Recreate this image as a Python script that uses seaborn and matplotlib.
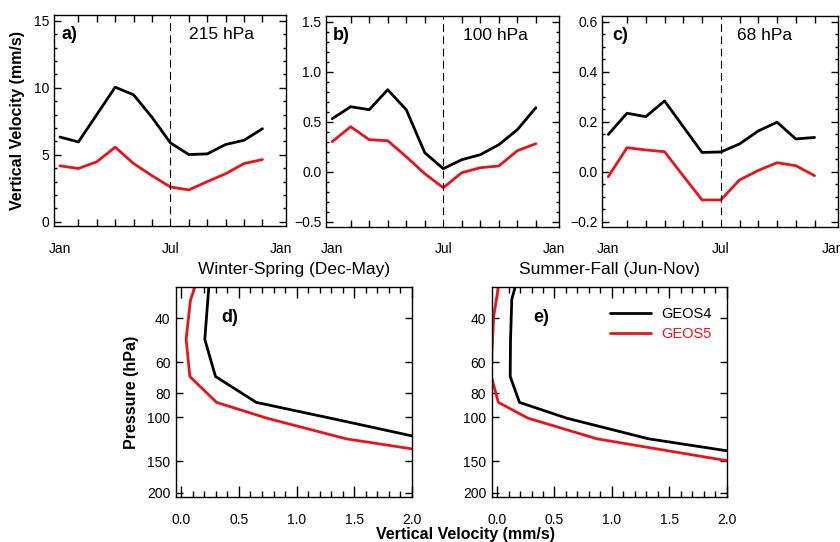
import numpy as np
import pandas as pd
import matplotlib
matplotlib.use("Agg")
import matplotlib.pyplot as plt
from matplotlib.ticker import MultipleLocator, FixedLocator, NullLocator, FixedFormatter
from matplotlib.lines import Line2D
import seaborn as sns

# ---------------- data ----------------
months = list(range(12))  # Jan..Dec
month_tick_pos = [0, 6, 12]
month_tick_lab = ["Jan", "Jul", "Jan"]

geos4_215 = [6.33, 5.96, 8.0, 10.05, 9.48, 7.8, 5.89, 5.02, 5.07, 5.77, 6.09, 6.95]
geos5_215 = [4.18, 3.98, 4.48, 5.57, 4.35, 3.44, 2.60, 2.38, 3.00, 3.59, 4.35, 4.65]

geos4_100 = [0.53, 0.65, 0.62, 0.82, 0.62, 0.19, 0.03, 0.12, 0.17, 0.27, 0.42, 0.64]
geos5_100 = [0.30, 0.45, 0.32, 0.31, 0.15, -0.02, -0.16, -0.01, 0.04, 0.057, 0.21, 0.28]

geos4_68 = [0.149, 0.234, 0.22, 0.283, 0.18, 0.077, 0.079, 0.111, 0.163, 0.198, 0.131, 0.137]
geos5_68 = [-0.02, 0.096, 0.087, 0.08, -0.017, -0.113, -0.113, -0.033, 0.005, 0.036, 0.024, -0.016]

# profiles: (velocity mm/s, pressure hPa)
ws_geos4_v = [0.238, 0.203, 0.296, 0.65, 1.33, 2.0]
ws_geos4_p = [30, 48.6, 68.5, 87, 101.5, 118.5]
ws_geos5_v = [0.116, 0.078, 0.041, 0.073, 0.305, 0.74, 1.43, 2.0]
ws_geos5_p = [30, 34, 48.6, 68.5, 87, 100.6, 121.8, 133.6]

sf_geos4_v = [0.157, 0.128, 0.117, 0.114, 0.195, 0.604, 1.32, 2.0]
sf_geos4_p = [30, 33.6, 48.6, 68.5, 87, 100.6, 121.8, 136]
sf_geos5_v = [0.011, -0.03, -0.045, -0.05, 0.011, 0.268, 0.87, 2.0]
sf_geos5_p = [30, 39.4, 55, 68.5, 87, 100.6, 121.8, 149]

p_ticks = [40, 60, 80, 100, 150, 200]

RED = "#e8141c"
BLACK = "black"

# ---------------- style ----------------
sns.set_theme(style="ticks")
plt.rcParams["font.family"] = ["Liberation Sans", "DejaVu Sans"]
plt.rcParams["axes.linewidth"] = 1.0
plt.rcParams["xtick.direction"] = "in"
plt.rcParams["ytick.direction"] = "in"
plt.rcParams["text.color"] = "black"
plt.rcParams["axes.labelcolor"] = "black"
plt.rcParams["xtick.color"] = "black"
plt.rcParams["ytick.color"] = "black"
plt.rcParams["xtick.labelcolor"] = "black"
plt.rcParams["ytick.labelcolor"] = "black"

fig = plt.figure(figsize=(8.4, 5.42), dpi=100)

W, H = 840.0, 542.0
def box(l, r, t, b):
    return [l / W, (H - b) / H, (r - l) / W, (b - t) / H]

ax_a = fig.add_axes(box(53.5, 285.5, 15.5, 226.5))
ax_b = fig.add_axes(box(325.7, 559.0, 15.7, 226.7))
ax_c = fig.add_axes(box(601.7, 838.0, 15.7, 226.7))
ax_d = fig.add_axes(box(176.0, 411.7, 286.7, 497.3))
ax_e = fig.add_axes(box(491.7, 726.7, 286.7, 497.3))

def top_panel(ax, g4, g5, ylim, ymaj, ymin, yfmt, lab, lab_x, lev, lev_x):
    df = pd.DataFrame({"month": months * 2,
                       "w": g4 + g5,
                       "model": ["GEOS4"] * 12 + ["GEOS5"] * 12})
    sns.lineplot(data=df, x="month", y="w", hue="model",
                 palette={"GEOS4": BLACK, "GEOS5": RED},
                 lw=2.0, ax=ax, legend=False, estimator=None)
    ax.axvline(6, color="black", lw=0.8, ls=(0, (7, 4)))
    ax.set_xlim(-0.35, 12.25)
    ax.set_ylim(*ylim)
    ax.xaxis.set_major_locator(FixedLocator(month_tick_pos))
    ax.xaxis.set_major_formatter(FixedFormatter(month_tick_lab))
    ax.xaxis.set_minor_locator(FixedLocator(list(range(13))))
    ax.yaxis.set_major_locator(MultipleLocator(ymaj))
    ax.yaxis.set_minor_locator(MultipleLocator(ymin))
    ax.yaxis.set_major_formatter(yfmt)
    ax.tick_params(axis="both", which="both", top=True, right=True,
                   direction="in", color="black", labelcolor="black",
                   labelsize=10)
    ax.tick_params(axis="x", which="major", length=0, pad=11)
    ax.tick_params(axis="x", which="minor", length=5, width=1)
    ax.tick_params(axis="y", which="major", length=5, width=1, pad=3)
    ax.tick_params(axis="y", which="minor", length=2.5, width=1)
    ax.set_xlabel("")
    ax.set_ylabel("")
    for s in ax.spines.values():
        s.set_color("black")
    ax.text(lab_x, 0.908, lab, transform=ax.transAxes, fontsize=13,
            fontweight="bold", ha="left", va="center", color="black")
    ax.text(lev_x, 0.908, lev, transform=ax.transAxes, fontsize=12.5,
            ha="center", va="center", color="black")

top_panel(ax_a, geos4_215, geos5_215, (-0.35, 15.4), 5, 1, "{x:.0f}",
          "a)", 0.035, "215 hPa", 0.726)
top_panel(ax_b, geos4_100, geos5_100, (-0.55, 1.56), 0.5, 0.1, "{x:.1f}",
          "b)", 0.03, "100 hPa", 0.726)
top_panel(ax_c, geos4_68, geos5_68, (-0.22, 0.624), 0.2, 0.05, "{x:.1f}",
          "c)", 0.045, "68 hPa", 0.691)

fig.text(18 / W, 1 - 120 / H, "Vertical Velocity (mm/s)", rotation=90,
         ha="center", va="center", fontsize=11.5, fontweight="bold",
         color="black")

def bottom_panel(ax, v4, p4, v5, p5, lab, lab_x, title):
    df = pd.DataFrame({"v": v4 + v5, "p": p4 + p5,
                       "model": ["GEOS4"] * len(v4) + ["GEOS5"] * len(v5)})
    sns.lineplot(data=df, x="v", y="p", hue="model",
                 palette={"GEOS4": BLACK, "GEOS5": RED},
                 lw=2.0, ax=ax, sort=False, estimator=None, legend=False)
    ax.set_yscale("log")
    ax.set_ylim(209, 29.9)
    ax.set_xlim(-0.047, 2.0)
    ax.yaxis.set_major_locator(FixedLocator(p_ticks))
    ax.yaxis.set_major_formatter(FixedFormatter([str(t) for t in p_ticks]))
    ax.yaxis.set_minor_locator(NullLocator())
    ax.xaxis.set_major_locator(MultipleLocator(0.5))
    ax.xaxis.set_minor_locator(MultipleLocator(0.1))
    ax.xaxis.set_major_formatter("{x:.1f}")
    ax.tick_params(axis="both", which="both", top=True, right=True,
                   direction="in", color="black", labelcolor="black",
                   labelsize=10)
    ax.tick_params(axis="x", which="major", length=8, width=1, pad=11)
    ax.tick_params(axis="x", which="minor", length=4.5, width=1)
    ax.tick_params(axis="y", which="major", length=5, width=1, pad=4)
    ax.set_xlabel("")
    ax.set_ylabel("")
    for s in ax.spines.values():
        s.set_color("black")
    ax.text(lab_x, 0.853, lab, transform=ax.transAxes, fontsize=13,
            fontweight="bold", ha="left", va="center", color="black")
    ax.set_title(title, fontsize=12.5, pad=9, color="black")

bottom_panel(ax_d, ws_geos4_v, ws_geos4_p, ws_geos5_v, ws_geos5_p,
             "d)", 0.193, "Winter-Spring (Dec-May)")
bottom_panel(ax_e, sf_geos4_v, sf_geos4_p, sf_geos5_v, sf_geos5_p,
             "e)", 0.175, "Summer-Fall (Jun-Nov)")

ax_d.set_ylabel("Pressure (hPa)", fontsize=11.5, fontweight="bold",
                labelpad=6, color="black")

handles = [Line2D([], [], color=BLACK, lw=2), Line2D([], [], color=RED, lw=2)]
leg = ax_e.legend(handles, ["GEOS4", "GEOS5"], loc="upper left",
                  bbox_to_anchor=(0.505, 0.905), frameon=False, fontsize=10.5,
                  handlelength=2.8, handletextpad=0.7, labelspacing=0.45,
                  borderpad=0, borderaxespad=0)
for txt, c in zip(leg.get_texts(), [BLACK, RED]):
    txt.set_color(c)

fig.text(465 / W, 1 - 534 / H, "Vertical Velocity (mm/s)", ha="center",
         va="center", fontsize=11.5, fontweight="bold", color="black")

fig.savefig("out.png", dpi=100, facecolor="white")
